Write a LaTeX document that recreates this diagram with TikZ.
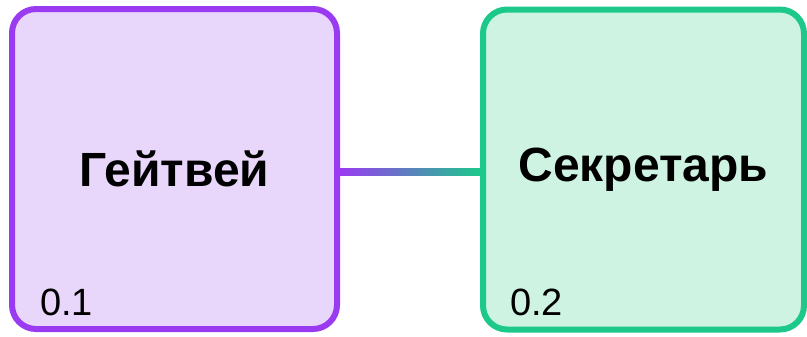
\documentclass[tikz,border=0pt]{standalone}
\usepackage{fontspec}
\setmainfont{Liberation Sans}
\definecolor{purpStroke}{HTML}{9A3BF2}
\definecolor{purpFill}{HTML}{E8D6FB}
\definecolor{grnStroke}{HTML}{1CC88A}
\definecolor{grnFill}{HTML}{CEF3E3}
\definecolor{midBlue}{HTML}{7AA6DC}
\begin{document}
\begin{tikzpicture}[x=0.75pt,y=-0.75pt,
  box/.style={rectangle, rounded corners=18pt, line width=4.5pt, inner sep=0pt,
    minimum width=#1, minimum height=240pt,
    font=\fontsize{36}{40}\selectfont\bfseries},
  num/.style={anchor=base west, inner sep=0pt, font=\fontsize{28.5}{32}\selectfont}]
\useasboundingbox (0,0) rectangle (807,336);
\node[box=243.75pt, draw=purpStroke, fill=purpFill] (gw) at (174.5,169) {Гейтвей};
\node[box=240.75pt, draw=grnStroke, fill=grnFill] (sec) at (643.5,169.5) {Секретарь};
\path[left color=purpStroke, middle color=midBlue, right color=grnStroke]
  ([yshift=-4.5pt]gw.east) rectangle ([yshift=0.6pt]sec.west);
\node[num] (n1) at (40,315) {0.1};
\node[num] (n2) at (510,315) {0.2};
\end{tikzpicture}
\end{document}
